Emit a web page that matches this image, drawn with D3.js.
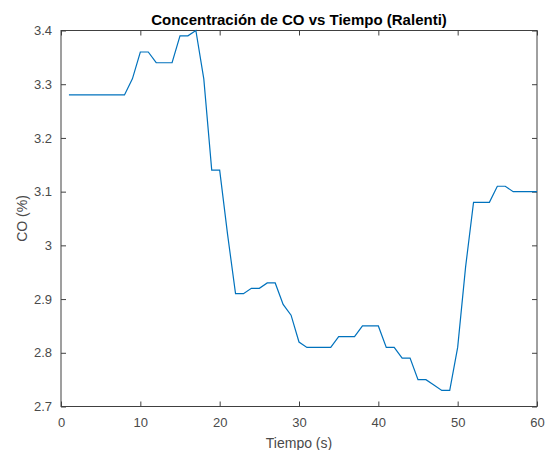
<!DOCTYPE html>
<html>
<head>
<meta charset="utf-8">
<script src="https://cdn.jsdelivr.net/npm/d3@7"></script>
<style>
  body { margin: 0; background: #fff; }
  text { font-family: "Liberation Sans", Arial, sans-serif; }
</style>
</head>
<body>
<div id="chart"></div>
<script>
var svgWidth = 545;
var svgHeight = 450;

var margin = { top: 30.5, right: 8, bottom: 43.5, left: 61 };
var width = svgWidth - margin.left - margin.right;
var height = svgHeight - margin.top - margin.bottom;

// data, one sample per second
var tiempo = d3.range(1, 61);
var co = [
  3.28, 3.28, 3.28, 3.28, 3.28, 3.28, 3.28, 3.28, 3.31, 3.36,
  3.36, 3.34, 3.34, 3.34, 3.39, 3.39, 3.40, 3.31, 3.14, 3.14,
  3.02, 2.91, 2.91, 2.92, 2.92, 2.93, 2.93, 2.89, 2.87, 2.82,
  2.81, 2.81, 2.81, 2.81, 2.83, 2.83, 2.83, 2.85, 2.85, 2.85,
  2.81, 2.81, 2.79, 2.79, 2.75, 2.75, 2.74, 2.73, 2.73, 2.81,
  2.96, 3.08, 3.08, 3.08, 3.11, 3.11, 3.10, 3.10, 3.10, 3.10
];
var xTicks = [0, 10, 20, 30, 40, 50, 60];
var yTicks = [2.7, 2.8, 2.9, 3.0, 3.1, 3.2, 3.3, 3.4];

var data = tiempo.map(function(t, i) { return { t: t, co: co[i] }; });

var svg = d3.select("#chart")
  .append("svg")
  .attr("width", svgWidth)
  .attr("height", svgHeight);

var chartGroup = svg.append("g")
  .attr("transform", `translate(${margin.left}, ${margin.top})`);

var xLinearScale = d3.scaleLinear().domain([0, 60]).range([0, width]);
var yLinearScale = d3.scaleLinear().domain([2.7, 3.4]).range([height, 0]);

var axisColor = "#404040";

function styleAxis(g) {
  g.select(".domain").remove();
  g.selectAll(".tick line").attr("stroke", axisColor);
  g.selectAll(".tick text")
    .attr("fill", "#4a4a4a")
    .style("font-size", "13px");
}

// bottom and top axes (ticks pointing in)
chartGroup.append("g")
  .attr("transform", `translate(0, ${height})`)
  .call(d3.axisBottom(xLinearScale).tickValues(xTicks).tickSize(-5).tickPadding(11))
  .call(styleAxis);

chartGroup.append("g")
  .call(d3.axisTop(xLinearScale).tickValues(xTicks).tickSize(-5).tickFormat(""))
  .call(styleAxis);

// left and right axes
chartGroup.append("g")
  .call(d3.axisLeft(yLinearScale).tickValues(yTicks).tickSize(-5).tickPadding(9)
    .tickFormat(d3.format("~g")))
  .call(styleAxis);

chartGroup.append("g")
  .attr("transform", `translate(${width}, 0)`)
  .call(d3.axisRight(yLinearScale).tickValues(yTicks).tickSize(-5).tickFormat(""))
  .call(styleAxis);

// box
chartGroup.append("rect")
  .attr("width", width)
  .attr("height", height)
  .attr("fill", "none")
  .attr("stroke", axisColor)
  .attr("stroke-width", 1);

// the line
var line = d3.line()
  .x(d => xLinearScale(d.t))
  .y(d => yLinearScale(d.co));

chartGroup.append("path")
  .datum(data)
  .attr("fill", "none")
  .attr("stroke", "#0072BD")
  .attr("stroke-width", 1.2)
  .attr("d", line);

// title and labels
svg.append("text")
  .attr("x", margin.left + width / 2)
  .attr("y", 25)
  .attr("text-anchor", "middle")
  .style("font-size", "15px")
  .style("font-weight", "bold")
  .attr("fill", "#000")
  .text("Concentración de CO vs Tiempo (Ralenti)");

svg.append("text")
  .attr("x", margin.left + width / 2)
  .attr("y", 448)
  .attr("text-anchor", "middle")
  .style("font-size", "14px")
  .attr("fill", "#4a4a4a")
  .text("Tiempo (s)");

svg.append("text")
  .attr("transform", "rotate(-90)")
  .attr("x", -(margin.top + height / 2))
  .attr("y", 27)
  .attr("text-anchor", "middle")
  .style("font-size", "14px")
  .attr("fill", "#4a4a4a")
  .text("CO (%)");
</script>
</body>
</html>
